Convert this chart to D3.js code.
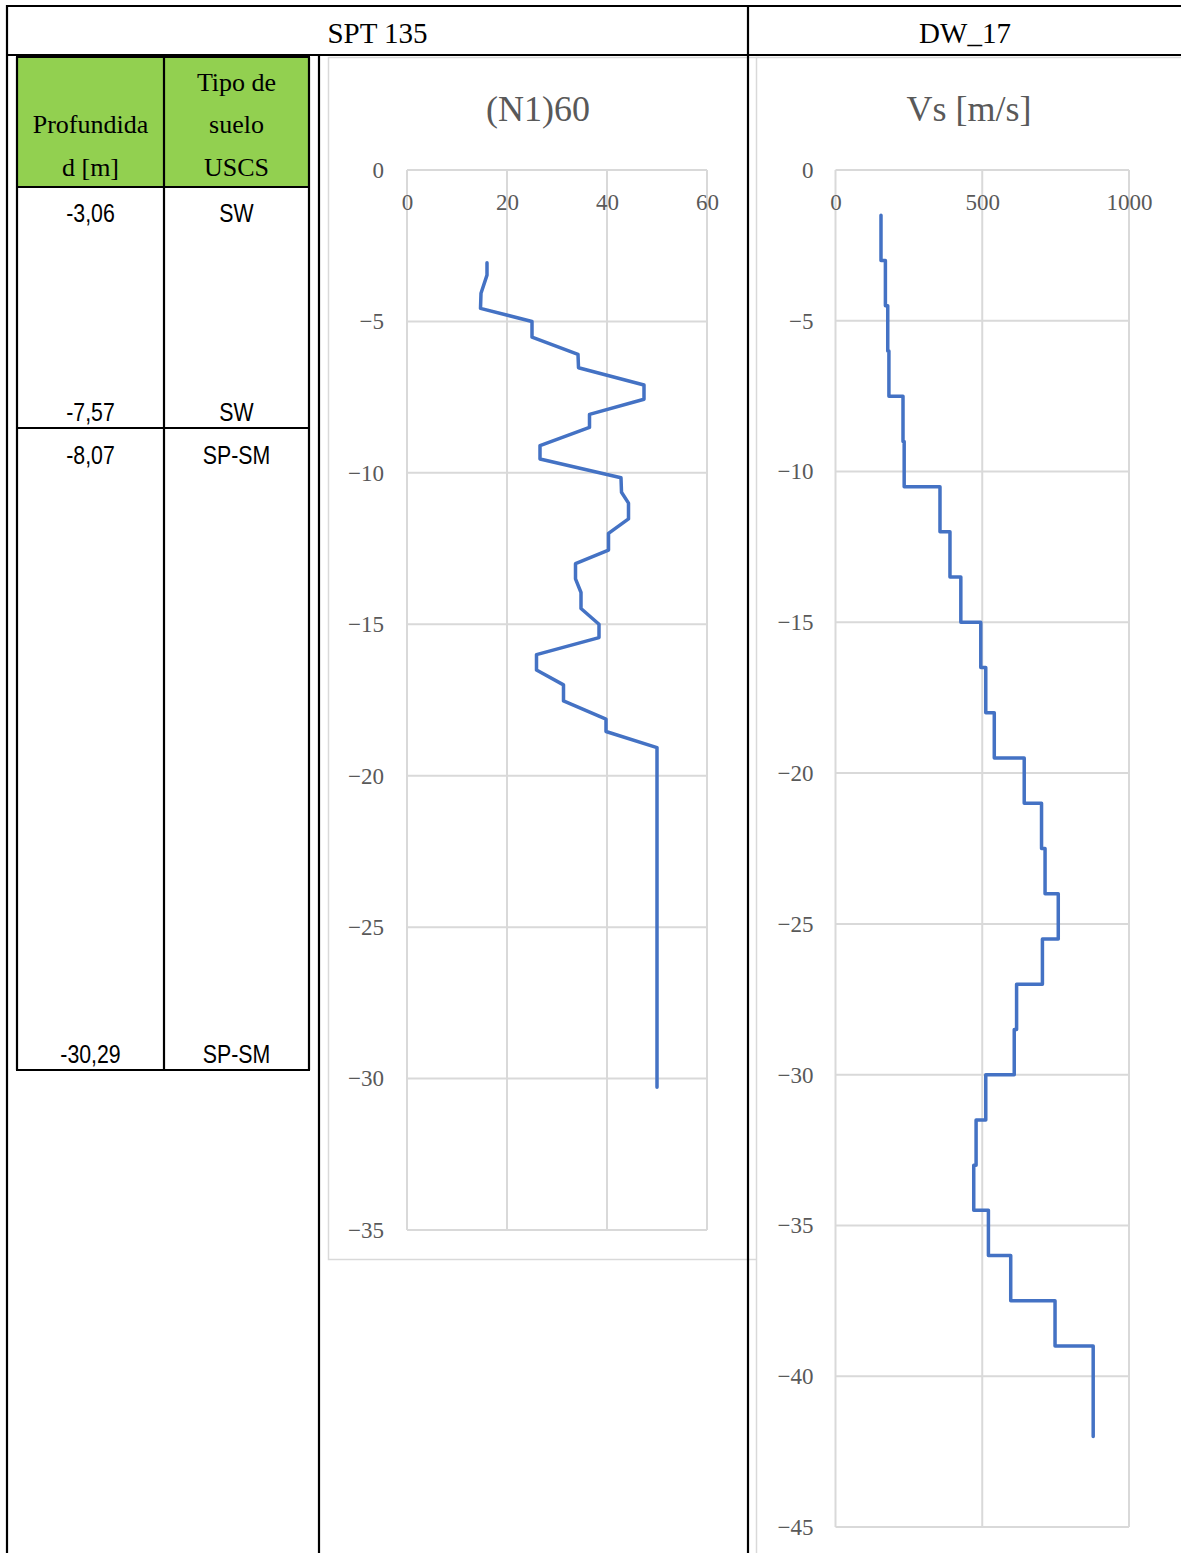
<!DOCTYPE html>
<html>
<head>
<meta charset="utf-8">
<script src="https://cdn.jsdelivr.net/npm/d3@7"></script>
<style>
  html, body { margin: 0; padding: 0; background: #fff; }
  svg { display: block; }
</style>
</head>
<body>
<svg id="chart" width="1181" height="1553"></svg>
<script>
// ---------------- DATA ----------------
const headerTitles = ["SPT 135", "DW_17"];
const tableHeaders = [["Profundida", "d [m]"], ["Tipo de", "suelo", "USCS"]];
const tableDepths = ["-3,06", "-7,57", "-8,07", "-30,29"];
const tableSoils = ["SW", "SW", "SP-SM", "SP-SM"];

// (N1)60 profile
const n160Depth = [-3.06, -3.47, -4.07, -4.57, -5.0, -5.52, -6.09, -6.53, -7.1, -7.57,
  -8.07, -8.5, -9.1, -9.54, -10.16, -10.64, -11.0, -11.52, -12.0, -12.55,
  -13.0, -13.5, -13.95, -14.48, -15.0, -15.44, -16.0, -16.51, -17.0, -17.53,
  -18.13, -18.54, -19.07, -30.29];
const n160Value = [16, 16, 14.8, 14.7, 25, 25, 34.2, 34.3, 47.4, 47.4,
  36.5, 36.5, 26.6, 26.6, 42.8, 42.9, 44.3, 44.3, 40.3, 40.3,
  33.7, 33.7, 34.8, 34.8, 38.4, 38.4, 25.9, 25.9, 31.3, 31.3,
  39.8, 39.8, 50, 50];
const n160XTicks = [0, 20, 40, 60];
const n160YTicks = [0, -5, -10, -15, -20, -25, -30, -35];

// Vs profile (layer boundaries and layer velocities)
const vsDepth = [-1.5, -3, -4.5, -6, -7.5, -9, -10.5, -12, -13.5, -15, -16.5, -18, -19.5,
  -21, -22.5, -24, -25.5, -27, -28.5, -30, -31.5, -33, -34.5, -36, -37.5, -39, -40.5, -42];
const vsValue = [155, 170, 178, 182, 230, 234, 356, 390, 427, 495, 512, 541, 643,
  702, 714, 759, 705, 617, 609, 512, 479, 471, 521, 597, 748, 878, 878];
const vsXTicks = [0, 500, 1000];
const vsYTicks = [0, -5, -10, -15, -20, -25, -30, -35, -40, -45];

// ---------------- DRAW ----------------
const svg = d3.select("#chart");
const SERIF = "'Liberation Serif', 'Times New Roman', Times, serif";
const SANS = "'Liberation Sans', Arial, sans-serif";
const GRID = "#d9d9d9";
const TXT = "#595959";
const LINE = "#4472C4";
const fmt = d => d < 0 ? "\u2212" + Math.abs(d) : String(d);

// ---- chart area borders (behind table lines)
svg.append("rect").attr("x", 328.5).attr("y", 57.5).attr("width", 430).attr("height", 1202)
  .attr("fill", "#fff").attr("stroke", GRID).attr("stroke-width", 1.5);
svg.append("rect").attr("x", 756.5).attr("y", 57.5).attr("width", 440).attr("height", 1520)
  .attr("fill", "#fff").attr("stroke", GRID).attr("stroke-width", 1.5);

function drawChart(cfg) {
  const x = d3.scaleLinear().domain(cfg.xDomain).range(cfg.xRange);
  const y = d3.scaleLinear().domain(cfg.yDomain).range(cfg.yRange);
  const g = svg.append("g");

  // horizontal gridlines
  g.selectAll("line.hg").data(cfg.yTicks).join("line")
    .attr("x1", cfg.xRange[0]).attr("x2", cfg.xRange[1])
    .attr("y1", d => y(d)).attr("y2", d => y(d))
    .attr("stroke", GRID).attr("stroke-width", 2);
  // vertical gridlines
  g.selectAll("line.vg").data(cfg.xTicks).join("line")
    .attr("x1", d => x(d)).attr("x2", d => x(d))
    .attr("y1", cfg.yRange[0]).attr("y2", cfg.yRange[1])
    .attr("stroke", GRID).attr("stroke-width", 2);

  // y axis labels
  const ya = d3.axisLeft(y).tickValues(cfg.yTicks).tickFormat(fmt).tickSize(0).tickPadding(cfg.yPad);
  const yg = g.append("g").attr("transform", `translate(${cfg.xRange[0]},0)`).call(ya);
  yg.select(".domain").remove();
  yg.selectAll("text").attr("font-family", SERIF).attr("font-size", 23).attr("fill", TXT).attr("dy", "0.32em");

  // x axis labels (top axis at y=0, labels below)
  const xa = d3.axisBottom(x).tickValues(cfg.xTicks).tickFormat(fmt).tickSize(0).tickPadding(0);
  const xg = g.append("g").attr("transform", `translate(0,${cfg.yRange[0]})`).call(xa);
  xg.select(".domain").remove();
  xg.selectAll("text").attr("font-family", SERIF).attr("font-size", 23).attr("fill", TXT)
    .attr("y", 33).attr("dy", "0.32em");

  // title
  g.append("text").attr("x", cfg.titleX).attr("y", 121).attr("text-anchor", "middle")
    .attr("font-family", SERIF).attr("font-size", 36).attr("fill", TXT).text(cfg.title);

  // data line
  const line = d3.line().x(d => x(d.v)).y(d => y(d.d));
  g.append("path").datum(cfg.points).attr("d", line)
    .attr("fill", "none").attr("stroke", LINE).attr("stroke-width", 3.5)
    .attr("stroke-linejoin", "round").attr("stroke-linecap", "round");
}

const n160Points = n160Depth.map((d, i) => ({ d: d, v: n160Value[i] }));
const vsPoints = [];
vsValue.forEach((v, i) => {
  vsPoints.push({ d: vsDepth[i], v: v });
  vsPoints.push({ d: vsDepth[i + 1], v: v });
});

drawChart({
  xDomain: [0, 60], xRange: [407, 707],
  yDomain: [0, -35], yRange: [170, 1230],
  xTicks: n160XTicks, yTicks: n160YTicks, yPad: 23,
  title: "(N1)60", titleX: 538, points: n160Points
});
drawChart({
  xDomain: [0, 1000], xRange: [835.5, 1129],
  yDomain: [0, -45], yRange: [170, 1527],
  xTicks: vsXTicks, yTicks: vsYTicks, yPad: 22,
  title: "Vs [m/s]", titleX: 969, points: vsPoints
});

// ---- outer table lines
const BLK = "#000";
const outer = svg.append("g").attr("stroke", BLK).attr("stroke-width", 2.2);
outer.append("line").attr("x1", 6).attr("x2", 1181).attr("y1", 6).attr("y2", 6);
outer.append("line").attr("x1", 6).attr("x2", 1181).attr("y1", 55).attr("y2", 55);
outer.append("line").attr("x1", 7).attr("x2", 7).attr("y1", 5).attr("y2", 1553);
outer.append("line").attr("x1", 748).attr("x2", 748).attr("y1", 5).attr("y2", 1553);
outer.append("line").attr("x1", 319).attr("x2", 319).attr("y1", 55).attr("y2", 1553);

svg.selectAll("text.hdr").data(headerTitles).join("text")
  .attr("x", (d, i) => i === 0 ? 377.5 : 965)
  .attr("y", 43).attr("text-anchor", "middle")
  .attr("font-family", SERIF).attr("font-size", 29).attr("fill", "#000").text(d => d);

// ---- inner table
const colX = [17, 164, 309];
const rowY = [57, 187, 428, 1070];
svg.append("rect").attr("x", colX[0]).attr("y", rowY[0]).attr("width", colX[2] - colX[0]).attr("height", rowY[1] - rowY[0])
  .attr("fill", "#92D050");
const inner = svg.append("g").attr("stroke", BLK).attr("stroke-width", 2.2);
colX.forEach(cx => inner.append("line").attr("x1", cx).attr("x2", cx).attr("y1", rowY[0]).attr("y2", rowY[3]));
rowY.forEach(ry => inner.append("line").attr("x1", colX[0] - 1).attr("x2", colX[2] + 1).attr("y1", ry).attr("y2", ry));

// header text
const hdrLineY = [[133, 176], [91, 133, 176]];
tableHeaders.forEach((lines, ci) => {
  const cx = (colX[ci] + colX[ci + 1]) / 2;
  lines.forEach((t, li) => {
    svg.append("text").attr("x", cx).attr("y", hdrLineY[ci][li]).attr("text-anchor", "middle")
      .attr("font-family", SERIF).attr("font-size", 26).attr("fill", "#000").text(t);
  });
});

// body text (narrow sans, emulated with horizontal scaling)
const bodyY = [222, 421, 464, 1063];
const bodyCols = [tableDepths, tableSoils];
bodyCols.forEach((arr, ci) => {
  const cx = (colX[ci] + colX[ci + 1]) / 2;
  svg.selectAll(null).data(arr).join("text")
    .attr("transform", (d, i) => `translate(${cx},${bodyY[i]}) scale(0.82,1)`)
    .attr("text-anchor", "middle")
    .attr("font-family", SANS).attr("font-size", 26).attr("fill", "#000").text(d => d);
});
</script>
</body>
</html>
